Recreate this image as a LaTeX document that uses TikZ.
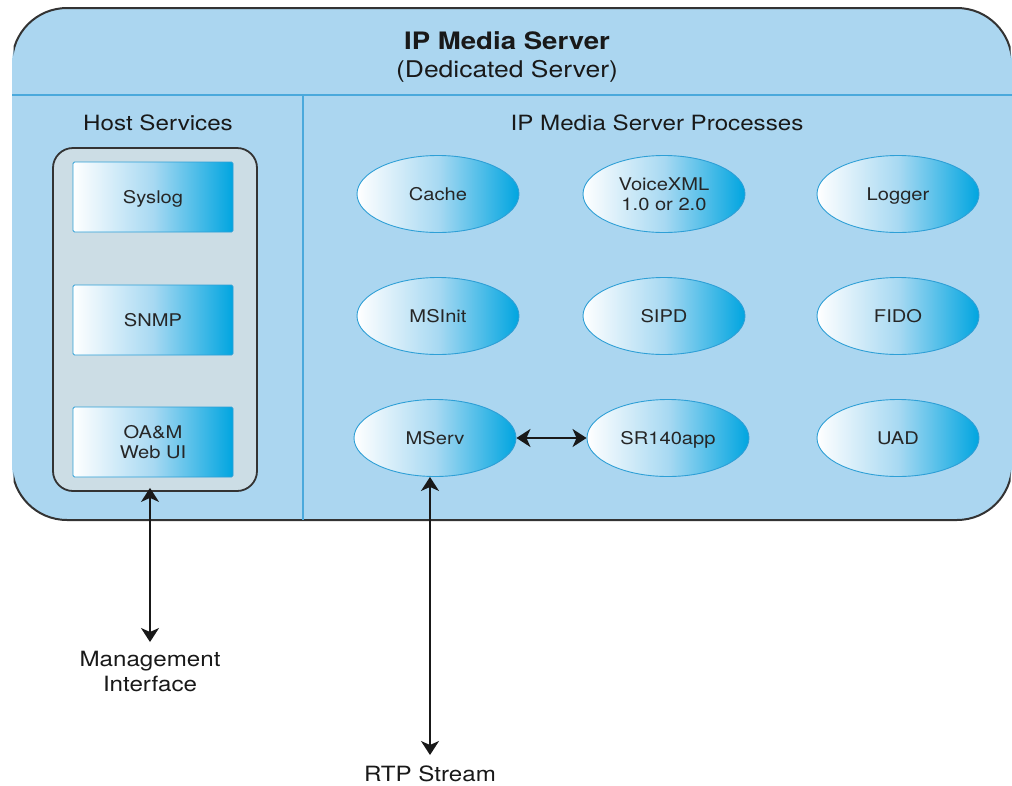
\documentclass[tikz,border=0pt]{standalone}
\usepackage{fontspec}
\setmainfont{TeX Gyre Heros}
\usetikzlibrary{shapes.geometric,arrows.meta}
\definecolor{bgblue}{HTML}{ABD6F0}
\definecolor{lineblue}{HTML}{4AA9DC}
\definecolor{hostgray}{HTML}{CCDDE5}
\definecolor{darkline}{HTML}{333333}
\definecolor{deepblue}{HTML}{00A5E0}
\definecolor{midblue}{HTML}{A8D9F2}
\definecolor{edgeblue}{HTML}{2E9FD6}
\newcommand\wtxt[1]{\scalebox{1.15}[1]{#1}}
\tikzset{
  svcbox/.style={rectangle, draw=edgeblue, line width=0.8pt, rounded corners=1.5pt,
    minimum width=160pt, minimum height=70pt, inner sep=0pt,
    left color=white, right color=deepblue, middle color=midblue,
    font=\fontsize{17.5}{21}\selectfont, align=center, text=black!85},
  procell/.style={ellipse, draw=edgeblue, line width=0.9pt,
    minimum width=162pt, minimum height=77pt, inner sep=0pt,
    left color=white, right color=deepblue, middle color=midblue,
    font=\fontsize{17.5}{21}\selectfont, align=center, text=black!85},
  oneline/.style={text height=12.6pt, text depth=0pt},
  lbl/.style={inner sep=0pt, font=\fontsize{21}{25}\selectfont, align=center, text=black!90},
  dbl/.style={{Stealth[length=14pt,width=18pt,inset=4pt]}-{Stealth[length=14pt,width=18pt,inset=4pt]}, line width=1.8pt, draw=black!90},
}
\begin{document}
\begin{tikzpicture}[x=1pt,y=-1pt]
\useasboundingbox (0,0) rectangle (1012,785);
\fill[white] (0,0) rectangle (1012,785);
% outer server box
\fill[bgblue, rounded corners=55pt] (12,8) rectangle (1012,520);
\begin{scope}
  \clip (13.5,0) rectangle (1010.5,785);
  \draw[darkline, line width=2pt, rounded corners=55pt] (12,8) rectangle (1012,520);
\end{scope}
\draw[lineblue, line width=1.5pt] (12,95) -- (1012,95);
\draw[lineblue, line width=1.5pt] (303,95) -- (303,520);
% titles
\node[inner sep=0pt, anchor=base, font=\fontsize{24}{28}\selectfont\bfseries, text=black!90] (title) at (507,49) {\wtxt{IP Media Server}};
\node[inner sep=0pt, anchor=base, font=\fontsize{23}{28}\selectfont, text=black!90] (subtitle) at (507,77) {\wtxt{(Dedicated Server)}};
\node[lbl, anchor=base] (hosttitle) at (158,130) {\wtxt{Host Services}};
\node[lbl, anchor=base] (proctitle) at (657,130) {\wtxt{IP Media Server Processes}};
% host services
\node[rectangle, draw=darkline, line width=1.8pt, fill=hostgray, rounded corners=20pt,
  minimum width=204pt, minimum height=343pt] (hostbox) at (155,319.5) {};
\node[svcbox, oneline] (syslog) at (153,197) {\wtxt{Syslog}};
\node[svcbox, oneline] (snmp) at (153,320) {\wtxt{SNMP}};
\node[svcbox] (oam) at (153,442) {\wtxt{OA\&M}\\[-1pt]\wtxt{Web UI}};
% processes
\node[procell, oneline] (cache) at (438,194) {\wtxt{Cache}};
\node[procell] (vxml) at (664,194) {\wtxt{VoiceXML}\\[-1pt]\wtxt{1.0 or 2.0}};
\node[procell, oneline] (logger) at (898,194) {\wtxt{Logger}};
\node[procell, oneline] (msinit) at (438,316) {\wtxt{MSInit}};
\node[procell, oneline] (sipd) at (664,316) {\wtxt{SIPD}};
\node[procell, oneline] (fido) at (898,316) {\wtxt{FIDO}};
\node[procell, oneline] (mserv) at (435,438) {\wtxt{MServ}};
\node[procell, oneline] (sr) at (668,438) {\wtxt{SR140app}};
\node[procell, oneline] (uad) at (898,438) {\wtxt{UAD}};
% external labels
\node[lbl, anchor=north] (mgmt) at (150,651) {\wtxt{Management}\\\wtxt{Interface}};
\node[lbl, anchor=north] (rtp) at (430,766) {\wtxt{RTP Stream}};
% connectors
\draw[dbl] (mserv.east) -- (sr.west);
\draw[dbl, shorten <=-4pt, shorten >=9pt] (hostbox.south -| mgmt.north) -- (mgmt.north);
\draw[dbl, shorten >=11pt] (rtp.north |- mserv.south) -- (rtp.north);
\end{tikzpicture}
\end{document}
